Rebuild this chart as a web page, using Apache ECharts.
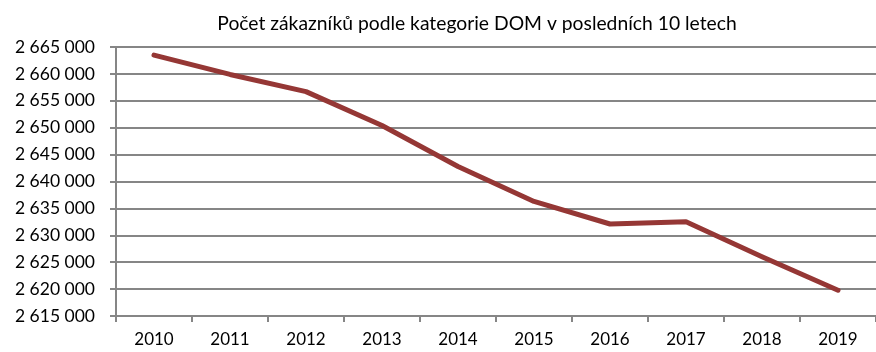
<!DOCTYPE html>
<html>
<head>
<meta charset="utf-8">
<script src="https://cdn.jsdelivr.net/npm/echarts@6/dist/echarts.min.js"></script>
<style>
  html, body { margin: 0; padding: 0; background: #fff; }
  #chart { width: 876px; height: 352px; }
</style>
</head>
<body>
<div id="chart"></div>
<script>
// Počet zákazníků kategorie DOM, roky 2010–2019
const years = ['2010', '2011', '2012', '2013', '2014', '2015', '2016', '2017', '2018', '2019'];
const customers = [2663500, 2659900, 2656700, 2650400, 2642800, 2636300, 2632100, 2632500, 2626000, 2619800];
const yMin = 2615000;
const yMax = 2665000;
const yStep = 5000;

const FONT = 'Lato, "Open Sans", sans-serif';

// thousands separated by spaces: 2 665 000
function fmt(v) {
  return String(v).replace(/\B(?=(\d{3})+(?!\d))/g, ' ');
}

const chart = echarts.init(document.getElementById('chart'), null, { renderer: 'canvas' });
chart.setOption({
  animation: false,
  backgroundColor: '#ffffff',
  title: {
    text: 'Počet zákazníků podle kategorie DOM v posledních 10 letech',
    left: 472,
    textAlign: 'center',
    top: 9,
    textStyle: { fontFamily: FONT, fontSize: 19.3, fontWeight: 'normal', color: '#000' }
  },
  grid: { left: 116, right: -17, top: 47, bottom: 36, containLabel: false },
  xAxis: {
    type: 'category',
    data: years,
    boundaryGap: true,
    axisLine: { lineStyle: { color: '#868686', width: 2 } },
    axisTick: { show: true, length: 6, lineStyle: { color: '#868686', width: 2 } },
    axisLabel: { fontFamily: FONT, fontSize: 17, color: '#000', margin: 15 }
  },
  yAxis: {
    type: 'value',
    min: yMin,
    max: yMax,
    interval: yStep,
    axisLine: { show: true, lineStyle: { color: '#868686', width: 2 } },
    axisTick: { show: true, length: 6, lineStyle: { color: '#868686', width: 2 } },
    splitLine: { lineStyle: { color: '#868686', width: 2 } },
    axisLabel: { fontFamily: FONT, fontSize: 17.5, color: '#000', margin: 21, formatter: fmt }
  },
  series: [{
    type: 'line',
    data: customers,
    symbol: 'none',
    smooth: false,
    lineStyle: { color: '#953735', width: 5, cap: 'round', join: 'round' }
  }]
});
</script>
</body>
</html>
